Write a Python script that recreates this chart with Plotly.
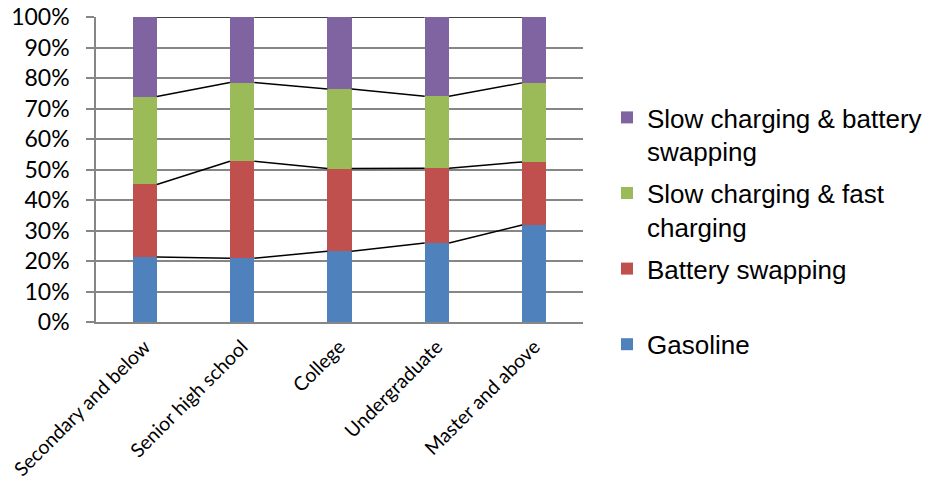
import plotly.graph_objects as go

categories = ["Secondary and below", "Senior high school", "College", "Undergraduate", "Master and above"]
gasoline = [21.3, 20.9, 23.2, 25.9, 31.8]
battery_swapping = [23.8, 31.8, 27.1, 24.5, 20.7]
slow_fast = [28.8, 25.8, 26.1, 23.6, 25.9]
slow_swap = [26.1, 21.5, 23.6, 26.0, 21.6]

legend_labels = ["Gasoline", "Battery swapping<br> ", "Slow charging & fast<br>charging",
                 "Slow charging & battery<br>swapping"]
series_values = [gasoline, battery_swapping, slow_fast, slow_swap]
colors = ["#4F81BD", "#C0504D", "#9BBB59", "#8064A2"]
y_ticks = list(range(0, 101, 10))
y_ticktext = [f"{v}%" for v in y_ticks]

x_pos = list(range(len(categories)))
bar_w = 0.25

fig = go.Figure()
n_series = len(series_values)
for k, (name, vals, col) in enumerate(zip(legend_labels, series_values, colors)):
    fig.add_trace(go.Bar(x=x_pos, y=vals, name=name, legendgroup=f"g{k}",
                         legendrank=1000 + (n_series - k),
                         marker=dict(color=col, line=dict(width=0)), width=bar_w))

# series lines connecting stack boundaries
cum = [0] * len(categories)
for vals in series_values:
    cum = [c + v for c, v in zip(cum, vals)]
    xs, ys = [], []
    for i in range(len(categories) - 1):
        xs += [x_pos[i] + bar_w / 2, x_pos[i + 1] - bar_w / 2, None]
        ys += [cum[i], cum[i + 1], None]
    fig.add_trace(go.Scatter(x=xs, y=ys, mode="lines", line=dict(color="black", width=1.5),
                             showlegend=False, hoverinfo="skip"))

fig.update_layout(
    width=931, height=483,
    barmode="stack",
    plot_bgcolor="white", paper_bgcolor="white",
    margin=dict(l=96, r=348, t=17, b=161, autoexpand=False),
    font=dict(family="Lato", color="black"),
    legend=dict(
        xref="container", yref="container",
        x=607 / 931, y=1 - 94 / 483, xanchor="left", yanchor="top",
        traceorder="grouped", valign="top",
        font=dict(family="Liberation Sans", size=26, color="black"),
        itemwidth=30, tracegroupgap=5, maxheight=420,
    ),
    xaxis=dict(
        range=[-0.5, 4.5], tickmode="array", tickvals=x_pos, ticktext=categories,
        tickangle=-45, tickfont=dict(family="Lato", size=19.5), automargin=False,
        ticklabeloverflow="allow", ticklabelstandoff=4,
        showgrid=False, showline=True, linecolor="#868686", linewidth=1.5,
        ticks="", zeroline=False,
    ),
    yaxis=dict(
        range=[0, 100], tickmode="array", tickvals=y_ticks, ticktext=y_ticktext,
        tickfont=dict(family="Lato", size=23), automargin=False,
        ticklabelstandoff=12,
        showgrid=True, gridcolor="#868686", gridwidth=1.5,
        showline=True, linecolor="#868686", linewidth=1.5,
        ticks="outside", ticklen=8, tickcolor="#868686", tickwidth=1.5,
        zeroline=False,
    ),
)

fig.write_html("out.html", config={"displayModeBar": False},
               post_script="document.body.style.margin='0';")
